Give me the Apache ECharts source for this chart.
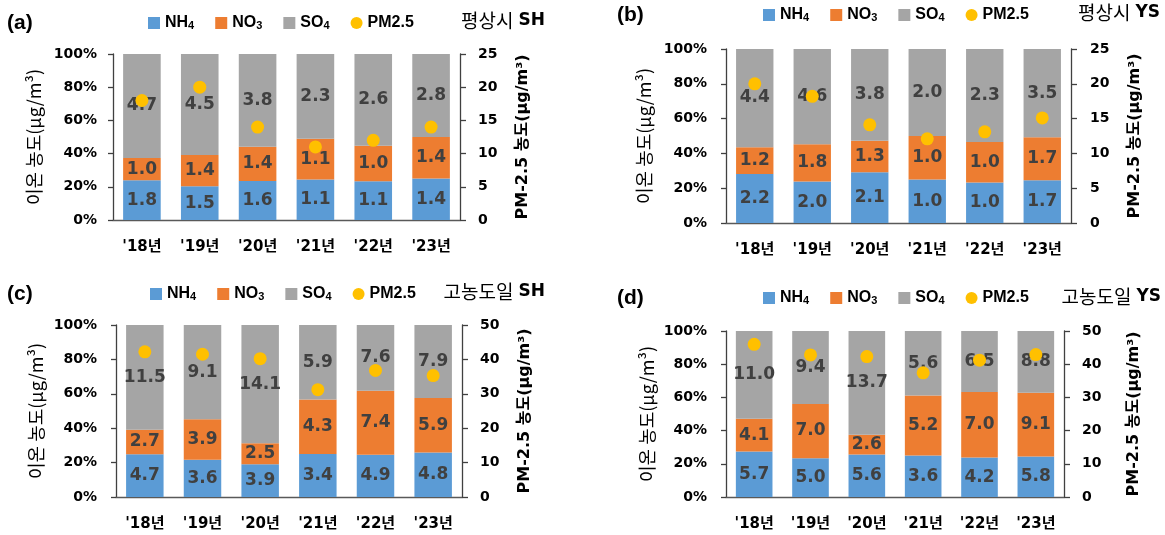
<!DOCTYPE html>
<html>
<head>
<meta charset="utf-8">
<script src="https://cdn.jsdelivr.net/npm/echarts@6/dist/echarts.min.js"></script>
<style>
  html, body { margin: 0; padding: 0; background: #fff; }
  #chart { width: 1165px; height: 535px; }
</style>
</head>
<body>
<div id="chart"></div>
<script>
// Years on the category axis
const categories = ["'18년", "'19년", "'20년", "'21년", "'22년", "'23년"];

// (a) 평상시 SH — ion concentrations (μg/m³) and PM2.5
const nh4A = [1.8, 1.5, 1.6, 1.1, 1.1, 1.4];
const no3A = [1.0, 1.4, 1.4, 1.1, 1.0, 1.4];
const so4A = [4.7, 4.5, 3.8, 2.3, 2.6, 2.8];
const pmA  = [18, 20, 14, 11, 12, 14];

// (b) 평상시 YS
const nh4B = [2.2, 2.0, 2.1, 1.0, 1.0, 1.7];
const no3B = [1.2, 1.8, 1.3, 1.0, 1.0, 1.7];
const so4B = [4.4, 4.6, 3.8, 2.0, 2.3, 3.5];
const pmB  = [20, 18.2, 14.1, 12.1, 13.1, 15.1];

// (c) 고농도일 SH
const nh4C = [4.7, 3.6, 3.9, 3.4, 4.9, 4.8];
const no3C = [2.7, 3.9, 2.5, 4.3, 7.4, 5.9];
const so4C = [11.5, 9.1, 14.1, 5.9, 7.6, 7.9];
const pmC  = [42.2, 41.5, 40.2, 31.2, 36.8, 35.3];

// (d) 고농도일 YS
const nh4D = [5.7, 5.0, 5.6, 3.6, 4.2, 5.8];
const no3D = [4.1, 7.0, 2.6, 5.2, 7.0, 9.1];
const so4D = [11.0, 9.4, 13.7, 5.6, 6.5, 8.8];
const pmD  = [46, 42.8, 42.3, 37.4, 41.2, 42.9];

// Right-axis tick labels per panel
const pmTicksAB = [0, 5, 10, 15, 20, 25];
const pmTicksCD = [0, 10, 20, 30, 40, 50];

const NUM_FONT = "'DejaVu Sans', 'Noto Sans CJK KR', sans-serif";
const KR_FONT = "'Noto Sans CJK KR', 'DejaVu Sans', sans-serif";
const LEG_FONT = "'Liberation Sans', 'DejaVu Sans', sans-serif";
const COLORS = { nh4: '#5B9BD5', no3: '#ED7D31', so4: '#A5A5A5', pm: '#FFC000' };

const panels = [
  { nh4: nh4A, no3: no3A, so4: so4A, pm: pmA, ticks: pmTicksAB, tag: '(a)', site: '평상시', code: 'SH',
    grid: { left: 113, top: 54, width: 347, height: 166 }, lblL: 16, lblR: 18, gapL: 70, gapR: 55,
    legend: { left: 148, top: 14 }, tagPos: { left: 7, top: 13 }, sitePos: { right: 620, top: 11 } },
  { nh4: nh4B, no3: no3B, so4: so4B, pm: pmB, ticks: pmTicksAB, tag: '(b)', site: '평상시', code: 'YS',
    grid: { left: 726, top: 49, width: 345, height: 174 }, lblL: 19, lblR: 19, gapL: 73, gapR: 56,
    legend: { left: 763, top: 6 }, tagPos: { left: 617, top: 5 }, sitePos: { right: 5, top: 3 } },
  { nh4: nh4C, no3: no3C, so4: so4C, pm: pmC, ticks: pmTicksCD, tag: '(c)', site: '고농도일', code: 'SH',
    grid: { left: 116, top: 325, width: 346, height: 172 }, lblL: 19, lblR: 18, gapL: 71, gapR: 55,
    legend: { left: 150, top: 285 }, tagPos: { left: 7, top: 284 }, sitePos: { right: 620, top: 282 } },
  { nh4: nh4D, no3: no3D, so4: so4D, pm: pmD, ticks: pmTicksCD, tag: '(d)', site: '고농도일', code: 'YS',
    grid: { left: 726, top: 331, width: 338, height: 166 }, lblL: 19, lblR: 18, gapL: 70, gapR: 62,
    legend: { left: 763, top: 289 }, tagPos: { left: 617, top: 288 }, sitePos: { right: 4, top: 287 } }
];

// Legend captions with subscript digits
const legendText = {
  NH4: 'NH{s|4}',
  NO3: 'NO{s|3}',
  SO4: 'SO{s|4}',
  'PM2.5': 'PM2.5'
};

const grids = [], xAxes = [], yAxes = [], series = [], legends = [], titles = [];

const axisLineStyle = { color: '#404040', width: 1.3 };

panels.forEach((p, i) => {
  grids.push(Object.assign({ containLabel: false }, p.grid));

  xAxes.push({
    type: 'category', gridIndex: i, data: categories,
    axisLine: { lineStyle: { color: '#595959', width: 1.3 } },
    axisTick: { show: false },
    axisLabel: { margin: 20, color: '#000', fontFamily: NUM_FONT, fontWeight: 'bold', fontSize: 15 }
  });

  yAxes.push({
    type: 'value', gridIndex: i, min: 0, max: 100, interval: 20, position: 'left',
    name: '이온 농도(μg/m³)', nameLocation: 'middle', nameGap: p.gapL, nameRotate: 90,
    nameTextStyle: { fontFamily: KR_FONT, fontSize: 18, color: '#000' },
    axisLine: { show: true, lineStyle: axisLineStyle },
    axisTick: { show: true, length: 5, lineStyle: axisLineStyle },
    splitLine: { show: false },
    axisLabel: { formatter: '{value}%', margin: p.lblL, color: '#000', fontFamily: NUM_FONT, fontWeight: 'bold', fontSize: 14 }
  });

  const pmMax = p.ticks[p.ticks.length - 1];
  yAxes.push({
    type: 'value', gridIndex: i, min: 0, max: pmMax, interval: p.ticks[1] - p.ticks[0], position: 'right',
    name: 'PM-2.5 농도(μg/m³)', nameLocation: 'middle', nameGap: p.gapR, nameRotate: 90,
    nameTextStyle: { fontFamily: NUM_FONT, fontWeight: 'bold', fontSize: 16, color: '#000' },
    axisLine: { show: true, lineStyle: axisLineStyle },
    axisTick: { show: true, length: 6, lineStyle: axisLineStyle },
    splitLine: { show: false },
    axisLabel: { margin: p.lblR, color: '#000', fontFamily: NUM_FONT, fontWeight: 'bold', fontSize: 14 }
  });

  // Shares of each ion in the total, so the stacks fill 100%
  const totals = p.nh4.map((v, k) => v + p.no3[k] + p.so4[k]);
  const parts = [
    { name: 'NH4', vals: p.nh4, color: COLORS.nh4 },
    { name: 'NO3', vals: p.no3, color: COLORS.no3 },
    { name: 'SO4', vals: p.so4, color: COLORS.so4 }
  ];
  parts.forEach(part => {
    series.push({
      type: 'bar', name: part.name, xAxisIndex: i, yAxisIndex: 2 * i, stack: 'ions' + i,
      barWidth: '65%', z: 2,
      itemStyle: { color: part.color },
      data: part.vals.map((v, k) => ({ value: v / totals[k] * 100, raw: v })),
      label: {
        show: true, position: 'inside', color: '#404040',
        fontFamily: NUM_FONT, fontWeight: 'bold', fontSize: 17,
        formatter: prm => prm.data.raw.toFixed(1)
      }
    });
  });

  series.push({
    type: 'scatter', name: 'PM2.5', xAxisIndex: i, yAxisIndex: 2 * i + 1,
    symbol: 'circle', symbolSize: 13, z: 5,
    itemStyle: { color: COLORS.pm, opacity: 1 },
    data: p.pm
  });

  legends.push({
    left: p.legend.left, top: p.legend.top, padding: 0, itemGap: 21,
    itemWidth: 12, itemHeight: 12, itemStyle: { borderWidth: 0 },
    formatter: name => legendText[name],
    textStyle: {
      fontFamily: LEG_FONT, fontWeight: 'bold', fontSize: 16, color: '#000', lineHeight: 18,
      rich: {
        s: { fontFamily: LEG_FONT, fontWeight: 'bold', fontSize: 11, color: '#000', lineHeight: 18, padding: [6, 0, 0, 0] }
      }
    },
    selectedMode: false,
    data: [
      { name: 'NH4', icon: 'rect' },
      { name: 'NO3', icon: 'rect' },
      { name: 'SO4', icon: 'rect' },
      { name: 'PM2.5', icon: 'circle' }
    ]
  });

  titles.push({
    text: p.tag, left: p.tagPos.left, top: p.tagPos.top, padding: 0,
    textStyle: { fontFamily: "'Liberation Sans', sans-serif", fontWeight: 'bold', fontSize: 21, color: '#000' }
  });
  titles.push({
    text: '{k|' + p.site + '} {c|' + p.code + '}', right: p.sitePos.right, top: p.sitePos.top, padding: 0,
    textStyle: {
      fontWeight: 'normal',
      rich: {
        k: { fontFamily: KR_FONT, fontWeight: 'normal', fontSize: 19, color: '#000' },
        c: { fontFamily: NUM_FONT, fontWeight: 'bold', fontSize: 17, color: '#000' }
      }
    }
  });
});

const chart = echarts.init(document.getElementById('chart'), null, { renderer: 'canvas' });
chart.setOption({
  backgroundColor: '#fff',
  animation: false,
  title: titles,
  legend: legends,
  grid: grids,
  xAxis: xAxes,
  yAxis: yAxes,
  series: series
});
</script>
</body>
</html>
